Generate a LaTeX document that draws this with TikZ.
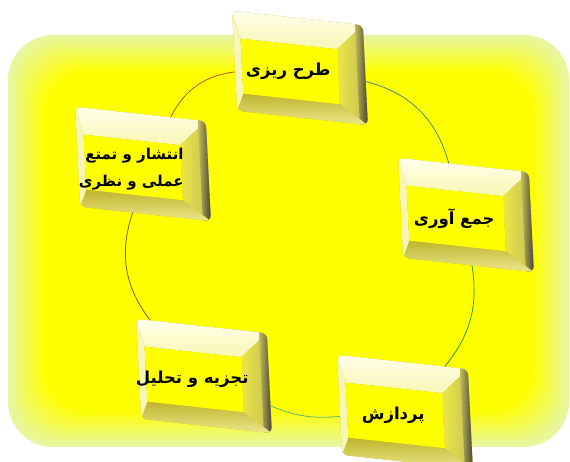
\documentclass[tikz,border=0pt]{standalone}
\usepackage{fontspec}
\newfontfamily\persianfont[Script=Arabic]{DejaVu Sans}
\TeXXeTstate=1
\definecolor{cycleYellow}{RGB}{255,255,0}
\definecolor{cycleLime}{RGB}{232,246,160}
\definecolor{padCream}{RGB}{255,255,236}
\definecolor{padLight}{RGB}{248,246,180}
\definecolor{padOlive}{RGB}{190,180,44}
\definecolor{padPale}{RGB}{236,232,140}
\definecolor{padSide}{RGB}{236,230,70}
\definecolor{padMid}{RGB}{196,190,90}
\definecolor{padGrey}{RGB}{70,68,50}
\definecolor{linkTeal}{RGB}{70,140,120}
\definecolor{linkGreen}{RGB}{50,150,50}
\definecolor{linkLight}{RGB}{90,190,110}
\definecolor{linkOlive}{RGB}{112,100,40}
\definecolor{linkRed}{RGB}{176,86,50}

\tikzset{
  pad/.style={minimum width=130pt,minimum height=100pt,inner sep=0pt,transform shape,rounded corners=6pt,fill=padOlive},
  padtext/.style={font=\persianfont\bfseries\fontsize{16.5}{27}\selectfont,align=right,inner sep=0pt},
  link/.style={line width=0.8pt,bend left=30}
}

% one bevelled button: name, centre, text, text offset
\newcommand\padbox[4][-12,5]{%
  \begin{scope}[shift={(#3)},xslant=-0.05,yslant=-0.11]
    \node[pad] (#2) at (0,0) {};
    \begin{scope}
      \clip[rounded corners=6pt] (-65,-50) rectangle (65,50);
      \shade[top color=padCream,bottom color=padLight] (-65,-50) -- (65,-50) -- (38,-23) -- (-58,-23) -- cycle;
      \shade[left color=padSide,right color=padMid] (65,-50) -- (65,50) -- (38,32) -- (38,-23) -- cycle;
      \shade[left color=padMid,right color=padGrey] (57,-50) rectangle (65,50);
      \shade[top color=padOlive,bottom color=padPale] (-65,50) -- (65,50) -- (38,32) -- (-58,32) -- cycle;
      \fill[padLight] (-65,-50) -- (-58,-23) -- (-58,32) -- (-65,50) -- cycle;
      \fill[cycleYellow] (-58,-23) rectangle (38,32);
    \end{scope}
    \node[padtext] (#2-text) at (#1) {#4};
  \end{scope}}
\newcommand\smalltext{\fontsize{15}{26}\selectfont}

\begin{document}
\begin{tikzpicture}[x=1pt,y=-1pt]
  \useasboundingbox (0,0) rectangle (570,461);
  \fill[white] (0,0) rectangle (570,461);
  % glowing backdrop
  \foreach \i in {0,...,10}
    \fill[cycleYellow!\i0!cycleLime,rounded corners=45pt] (8+3.5*\i,35+3.5*\i) rectangle (569-3.5*\i,447-3.5*\i);

  \padbox{plan}{300,68}{\beginR طرح ریزی\endR}
  \padbox{collect}{466,215}{\beginR جمع آوری\endR}
  \padbox{process}{405,412}{\beginR پردازش\endR}
  \padbox{analyse}{204,376}{\beginR تجزیه و تحلیل\endR}
  \padbox[-12,6]{publish}{143,164}{\smalltext\beginR انتشار و تمتع\endR\\\smalltext\beginR عملی و نظری\endR}

  \draw[link,linkTeal] (plan) to (collect);
  \draw[link,linkGreen,bend left=24] (collect) to (process);
  \draw[link,linkLight,bend left=14] (process) to (analyse);
  \draw[link,linkOlive,bend left=28] (analyse) to (publish);
  \draw[link,linkRed,bend left=28] (publish) to (plan);
\end{tikzpicture}
\end{document}
